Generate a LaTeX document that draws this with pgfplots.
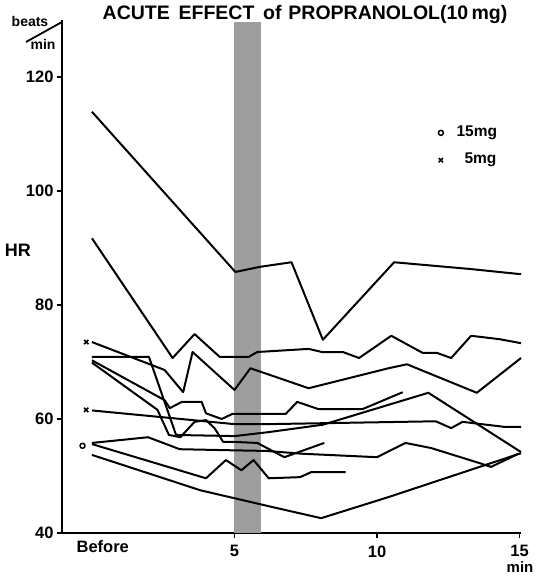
\documentclass[border=0pt]{standalone}
\usepackage{fontspec}
\setmainfont{Liberation Sans}
\usepackage{pgfplots}
\pgfplotsset{compat=1.18}
\begin{document}
\begin{tikzpicture}[x=1pt,y=1pt]
\useasboundingbox (-62,-44) rectangle (473,533);
\begin{axis}[
  at={(0,0)}, anchor=south west,
  scale only axis, width=459pt, height=513pt,
  xmin=-1.05, xmax=15.05, ymin=40, ymax=130,
  axis x line=bottom, axis y line=left,
  axis line style={line width=2.6pt,-},
  xtick={5,10,15}, ytick={40,60,80,100,120},
  extra x ticks={0.38}, extra x tick labels={Before},
  extra x tick style={major tick length=0pt},
  tick align=outside, major tick length=5pt,
  tick style={line width=1.8pt, black},
  tick label style={font=\bfseries\fontsize{16.5}{18}\selectfont},
  xticklabel style={yshift=-4pt},
  /pgf/number format/assume math mode=true,
  clip=false,
  every axis plot/.append style={line width=2pt, black, line join=round},
]
% infusion band
\addplot[fill=black!38, draw=none, line width=0pt] coordinates {(5,40) (5,129.6) (5.94,129.6) (5.94,40)} -- cycle;
% A
\addplot[no marks] coordinates {(0,113.9) (5.03,85.8) (5.9,86.7) (7.0,87.5) (8.1,73.9) (10.6,87.5) (13.3,86.3) (15.05,85.4)};
% B
\addplot[no marks] coordinates {(0,91.7) (2.83,70.7) (3.6,74.9) (4.48,70.9) (5.5,70.9) (5.8,71.75) (7.6,72.3) (8.07,71.75) (8.8,71.75) (9.37,70.7) (10.5,74.6) (11.6,71.6) (12.1,71.6) (12.6,70.7) (13.3,74.6) (14.3,74.0) (15.05,73.3)};
% C (5 mg)
\addplot[no marks] coordinates {(0,73.5) (2.55,68.6) (3.2,64.7) (3.53,71.75) (5.0,65.1) (5.56,68.9) (7.6,65.4) (10.4,68.9) (11.05,69.6) (13.5,64.6) (15.05,70.7)};
% D
\addplot[no marks] coordinates {(0,70.9) (2.0,70.9) (2.95,57.2) (5.0,57.0) (6.2,57.7) (8.1,59.0) (11.8,64.6) (15.05,54.2)};
% E1
\addplot[no marks] coordinates {(0,70.3) (2.55,63.3) (2.73,61.9) (3.15,63) (3.85,63) (4.0,61) (4.55,60) (4.93,60.9) (6.8,60.9) (7.2,63) (7.94,61.75) (9.5,61.75) (10.9,64.7)};
% E2
\addplot[no marks] coordinates {(0,69.9) (2.3,61.6) (2.7,57.2) (3.1,56.8) (3.6,59.5) (4.0,59.8) (4.3,58.4) (4.6,56) (4.9,56) (5.8,55.8) (6.75,53.3) (8.15,55.8)};
% X2 (5 mg)
\addplot[no marks] coordinates {(0,61.5) (5.0,59.1) (6.2,59.1) (12.06,59.6) (12.6,58.4) (13.0,59.5) (14.5,58.6) (15.05,58.6)};
% O upper (15 mg)
\addplot[no marks] coordinates {(0,55.8) (1.97,56.8) (3.08,54.7) (5.0,54.5) (6.1,54.4) (7.4,53.9) (10.0,53.3) (11.0,55.8) (11.9,54.9) (13.57,52.3) (14.0,51.6) (14.96,53.9)};
% O lower (15 mg)
\addplot[no marks] coordinates {(0,55.6) (4.0,49.6) (4.7,52.8) (5.24,51.0) (5.67,52.8) (6.2,49.6) (7.3,49.8) (7.7,50.7) (8.9,50.7)};
% bottom
\addplot[no marks] coordinates {(0,53.7) (3.8,47.5) (6.2,44.7) (8.04,42.6) (10.4,46.3) (15.05,54.0)};
% dose markers
\addplot[only marks, mark=x, mark size=3pt, line width=1.6pt] coordinates {(-0.2,73.5) (-0.2,61.6) (12.24,105.4)};
\addplot[only marks, mark=o, mark size=2.5pt, line width=1.5pt] coordinates {(-0.33,55.3) (12.24,110.2)};
\end{axis}
\node[font=\bfseries\fontsize{19.5}{22}\selectfont] at (243,518) {ACUTE\hspace{0.45em}EFFECT\hspace{0.45em}of\hspace{0.35em}PROPRANOLOL(10\,mg)};
\node[font=\bfseries\fontsize{18}{20}\selectfont] at (-44,283) {HR};
\node[font=\bfseries\fontsize{14}{16}\selectfont] at (-32,511) {beats};
\draw[line width=1.8pt] (-36,491) -- (0,511);
\node[font=\bfseries\fontsize{14}{16}\selectfont] at (-19,489) {min};
\node[font=\bfseries\fontsize{15}{17}\selectfont] at (458,-34) {min};
\node[font=\bfseries\fontsize{15.5}{17}\selectfont, anchor=west] at (391,400) {15mg};
\node[font=\bfseries\fontsize{15.5}{17}\selectfont, anchor=west] at (399,373) {5mg};
\end{tikzpicture}
\end{document}
